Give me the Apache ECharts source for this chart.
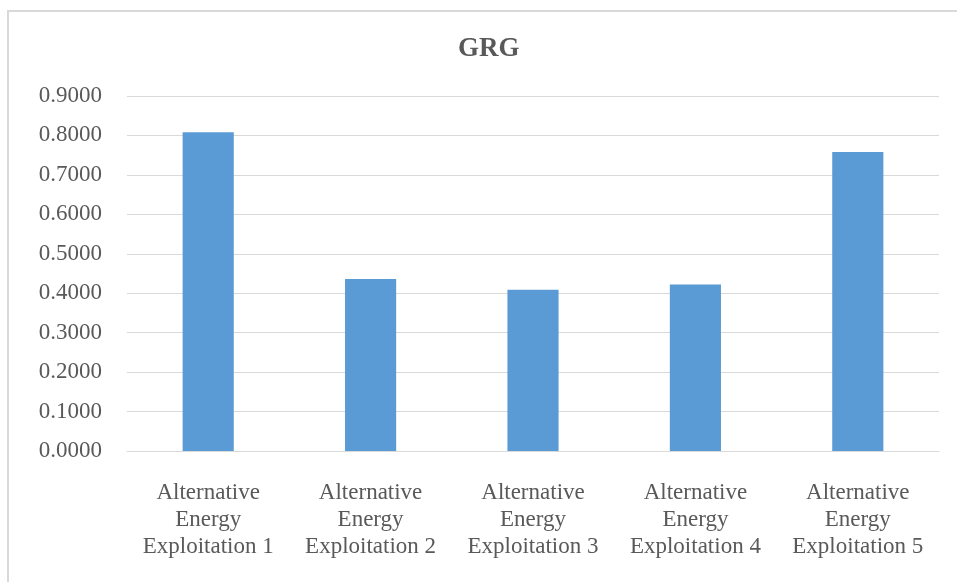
<!DOCTYPE html>
<html>
<head>
<meta charset="utf-8">
<script src="https://cdn.jsdelivr.net/npm/echarts@6/dist/echarts.min.js"></script>
<style>
html, body { margin: 0; padding: 0; background: #fff; }
#chart { width: 957px; height: 582px; }
</style>
</head>
<body>
<div id="chart"></div>
<script>
// GRG 数据
const categories = [
    'Alternative\nEnergy\nExploitation 1',
    'Alternative\nEnergy\nExploitation 2',
    'Alternative\nEnergy\nExploitation 3',
    'Alternative\nEnergy\nExploitation 4',
    'Alternative\nEnergy\nExploitation 5'
];
const grgValues = [0.808, 0.436, 0.409, 0.422, 0.758];
const yTicks = { min: 0, max: 0.9, step: 0.1 };

const serif = '"Liberation Serif", "DejaVu Serif", serif';
const textColor = '#595959';

let chart = echarts.init(document.getElementById('chart'));
let option = {
    backgroundColor: '#fff',
    animation: false,
    graphic: [{
        type: 'rect',
        shape: { x: 8, y: 11, width: 1000, height: 700 },
        style: { fill: 'none', stroke: '#d9d9d9', lineWidth: 2 },
        silent: true
    }],
    title: {
        text: 'GRG',
        left: 453,
        top: 31,
        textStyle: {
            fontFamily: serif,
            fontSize: 27,
            fontWeight: 'bold',
            color: textColor
        }
    },
    grid: {
        left: 127,
        right: 18,
        top: 96,
        bottom: 131,
        containLabel: false
    },
    xAxis: {
        type: 'category',
        data: categories,
        axisLine: { lineStyle: { color: '#d9d9d9', width: 1 } },
        axisTick: { show: false },
        axisLabel: {
            margin: 28,
            interval: 0,
            fontFamily: serif,
            fontSize: 23,
            lineHeight: 27,
            color: textColor
        }
    },
    yAxis: {
        type: 'value',
        min: yTicks.min,
        max: yTicks.max,
        interval: yTicks.step,
        axisLine: { show: false },
        axisTick: { show: false },
        axisLabel: {
            margin: 25,
            padding: [2, 0, 0, 0],
            fontFamily: serif,
            fontSize: 23,
            color: textColor,
            formatter: v => v.toFixed(4)
        },
        splitLine: { lineStyle: { color: '#d9d9d9', width: 1 } }
    },
    series: [{
        type: 'bar',
        data: grgValues,
        barWidth: '31.5%',
        itemStyle: { color: '#5B9BD5' }
    }]
};
chart.setOption(option);
</script>
</body>
</html>
